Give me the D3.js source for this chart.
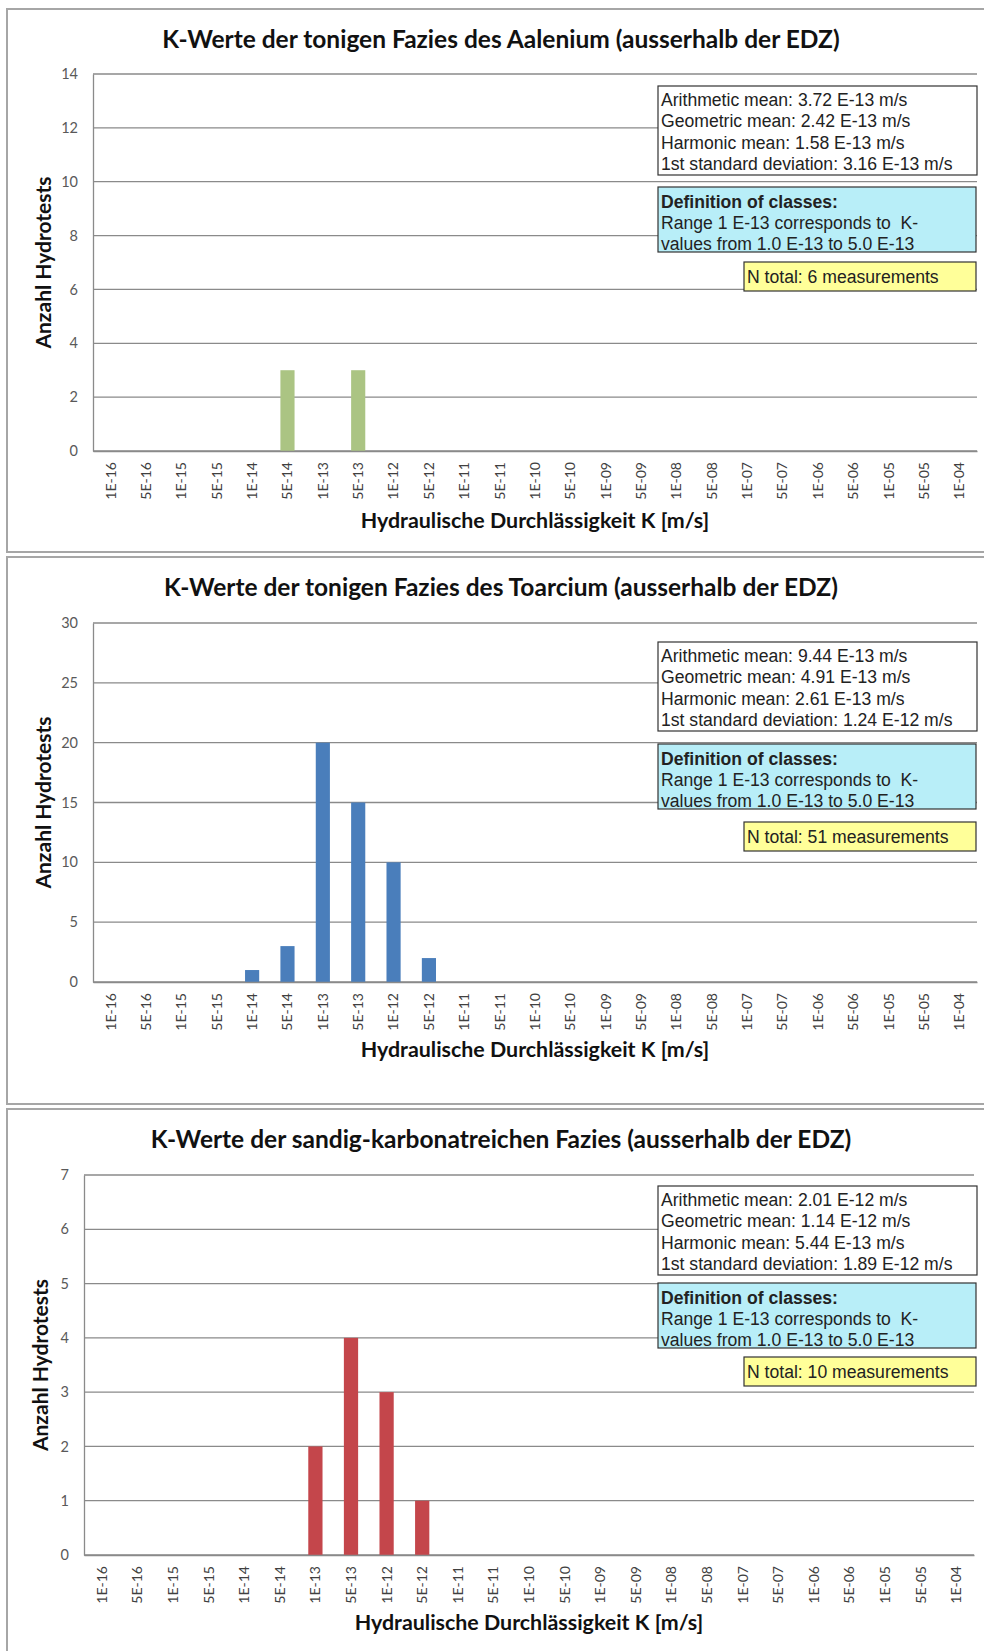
<!DOCTYPE html>
<html>
<head>
<meta charset="utf-8">
<script src="https://cdn.jsdelivr.net/npm/d3@7"></script>
<style>
  body { margin: 0; background: #fff; }
  svg { display: block; }
  .box-text { white-space: pre; }
</style>
</head>
<body>
<div id="chart"></div>
<script>
// permeability classes (x axis)
const classLabels = [
    "1E-16", "5E-16", "1E-15", "5E-15", "1E-14", "5E-14", "1E-13", "5E-13",
    "1E-12", "5E-12", "1E-11", "5E-11", "1E-10", "5E-10", "1E-09", "5E-09",
    "1E-08", "5E-08", "1E-07", "5E-07", "1E-06", "5E-06", "1E-05", "5E-05", "1E-04"
];

// number of hydrotests per class
const aaleniumCounts = [0, 0, 0, 0, 0, 3, 0, 3, 0, 0, 0, 0, 0, 0, 0, 0, 0, 0, 0, 0, 0, 0, 0, 0, 0];
const toarciumCounts = [0, 0, 0, 0, 1, 3, 20, 15, 10, 2, 0, 0, 0, 0, 0, 0, 0, 0, 0, 0, 0, 0, 0, 0, 0];
const sandigCounts   = [0, 0, 0, 0, 0, 0, 2, 4, 3, 1, 0, 0, 0, 0, 0, 0, 0, 0, 0, 0, 0, 0, 0, 0, 0];

const chartTitles = [
    "K-Werte der tonigen Fazies des Aalenium (ausserhalb der EDZ)",
    "K-Werte der tonigen Fazies des Toarcium (ausserhalb der EDZ)",
    "K-Werte der sandig-karbonatreichen Fazies (ausserhalb der EDZ)"
];

const yMaxValues = [14, 30, 7];
const yTickSteps = [2, 5, 1];

const statsAalenium = [
    "Arithmetic mean: 3.72 E-13 m/s",
    "Geometric mean: 2.42 E-13 m/s",
    "Harmonic mean: 1.58 E-13 m/s",
    "1st standard deviation: 3.16 E-13 m/s"
];
const statsToarcium = [
    "Arithmetic mean: 9.44 E-13 m/s",
    "Geometric mean: 4.91 E-13 m/s",
    "Harmonic mean: 2.61 E-13 m/s",
    "1st standard deviation: 1.24 E-12 m/s"
];
const statsSandig = [
    "Arithmetic mean: 2.01 E-12 m/s",
    "Geometric mean: 1.14 E-12 m/s",
    "Harmonic mean: 5.44 E-13 m/s",
    "1st standard deviation: 1.89 E-12 m/s"
];

const classDefinition = [
    "Definition of classes:",
    "Range 1 E-13 corresponds to  K-",
    "values from 1.0 E-13 to 5.0 E-13"
];
const nTotals = [
    "N total: 6 measurements",
    "N total: 51 measurements",
    "N total: 10 measurements"
];

const width = 984, height = 1651;

// layout of each chart panel (pixel positions)
const panels = [
    { counts: aaleniumCounts, stats: statsAalenium, color: "#abc483",
      frameTop: 9, frameBottom: 552, titleY: 39,
      plotLeft: 93, plotRight: 977, plotTop: 74, plotBottom: 451,
      xTitleY: 521, yTitleX: 44,
      statsTop: 86, classTop: 187, nTop: 262 },
    { counts: toarciumCounts, stats: statsToarcium, color: "#4a7ebb",
      frameTop: 557, frameBottom: 1104, titleY: 587,
      plotLeft: 93, plotRight: 977, plotTop: 623, plotBottom: 982,
      xTitleY: 1050, yTitleX: 44,
      statsTop: 642, classTop: 744, nTop: 822 },
    { counts: sandigCounts, stats: statsSandig, color: "#c4464b",
      frameTop: 1109, frameBottom: 1670, titleY: 1139,
      plotLeft: 84, plotRight: 974, plotTop: 1175, plotBottom: 1555,
      xTitleY: 1623, yTitleX: 41,
      statsTop: 1186, classTop: 1283, nTop: 1357 }
];

const svg = d3.select("#chart")
    .append("svg")
    .attr("width", width)
    .attr("height", height)
    .attr("viewBox", [0, 0, width, height]);

panels.forEach((p, i) => {
    const g = svg.append("g");

    // panel frame
    g.append("rect")
        .attr("x", 7)
        .attr("y", p.frameTop)
        .attr("width", 1000)
        .attr("height", p.frameBottom - p.frameTop)
        .attr("fill", "none")
        .attr("stroke", "#a6a6a6")
        .attr("stroke-width", 2);

    const x = d3.scaleBand()
        .domain(classLabels)
        .range([p.plotLeft, p.plotRight])
        .paddingInner(0.6)
        .paddingOuter(0.3);

    const y = d3.scaleLinear()
        .domain([0, yMaxValues[i]])
        .range([p.plotBottom, p.plotTop]);

    const yTicks = d3.range(0, yMaxValues[i] + 1e-9, yTickSteps[i]);

    // gridlines
    g.append("g")
        .selectAll("line")
        .data(yTicks)
        .join("line")
        .attr("x1", p.plotLeft)
        .attr("x2", p.plotRight)
        .attr("y1", d => y(d))
        .attr("y2", d => y(d))
        .attr("stroke", "#8a8a8a")
        .attr("stroke-width", 1.3);

    // y axis
    const yAxis = g.append("g")
        .attr("transform", `translate(${p.plotLeft},0)`)
        .call(d3.axisLeft(y).tickValues(yTicks).tickFormat(d3.format("d")).tickSize(0).tickPadding(15));
    yAxis.select(".domain").attr("stroke", "#8a8a8a").attr("stroke-width", 1.3);
    yAxis.selectAll("text")
        .attr("font-family", "Lato, 'Open Sans', sans-serif")
        .attr("font-size", 14.5)
        .attr("fill", "#595959");

    // bars
    g.append("g")
        .selectAll("rect")
        .data(p.counts.map((v, k) => ({ label: classLabels[k], value: v })).filter(d => d.value > 0))
        .join("rect")
        .attr("x", d => x(d.label))
        .attr("width", x.bandwidth())
        .attr("y", d => y(d.value))
        .attr("height", d => y(0) - y(d.value))
        .attr("fill", p.color);

    // x axis
    const xAxis = g.append("g")
        .attr("transform", `translate(0,${p.plotBottom})`)
        .call(d3.axisBottom(x).tickSize(0));
    xAxis.select(".domain").attr("stroke", "#8a8a8a").attr("stroke-width", 1.3);
    xAxis.selectAll("text")
        .attr("transform", "rotate(-90)")
        .attr("x", -11)
        .attr("y", 0)
        .attr("dy", "0.35em")
        .attr("text-anchor", "end")
        .attr("font-family", "Lato, 'Open Sans', sans-serif")
        .attr("font-size", 14)
        .attr("fill", "#404040");

    // titles
    g.append("text")
        .attr("x", 501)
        .attr("y", p.titleY)
        .attr("dy", "0.35em")
        .attr("text-anchor", "middle")
        .attr("font-family", "Lato, sans-serif")
        .attr("font-weight", "bold")
        .attr("font-size", 24.5)
        .attr("fill", "#111")
        .text(chartTitles[i]);

    g.append("text")
        .attr("x", (p.plotLeft + p.plotRight) / 2)
        .attr("y", p.xTitleY)
        .attr("dy", "0.35em")
        .attr("text-anchor", "middle")
        .attr("font-family", "Lato, sans-serif")
        .attr("font-weight", "bold")
        .attr("font-size", 21.4)
        .attr("fill", "#111")
        .text("Hydraulische Durchlässigkeit K [m/s]");

    g.append("text")
        .attr("transform", `translate(${p.yTitleX},${(p.plotTop + p.plotBottom) / 2}) rotate(-90)`)
        .attr("dy", "0.35em")
        .attr("text-anchor", "middle")
        .attr("font-family", "Lato, sans-serif")
        .attr("font-weight", "bold")
        .attr("font-size", 21)
        .attr("fill", "#111")
        .text("Anzahl Hydrotests");

    // info boxes
    const boxFont = "'Liberation Sans', Arial, sans-serif";
    const boxSize = 17.6;

    g.append("rect")
        .attr("x", 658).attr("y", p.statsTop)
        .attr("width", 319).attr("height", 89)
        .attr("fill", "#fff").attr("stroke", "#333").attr("stroke-width", 1.2);
    g.append("g")
        .selectAll("text")
        .data(p.stats)
        .join("text")
        .attr("x", 661)
        .attr("y", (d, k) => p.statsTop + 14 + k * 21.3)
        .attr("dy", "0.35em")
        .attr("font-family", boxFont)
        .attr("font-size", boxSize)
        .attr("fill", "#222")
        .text(d => d);

    g.append("rect")
        .attr("x", 658).attr("y", p.classTop)
        .attr("width", 318).attr("height", 65)
        .attr("fill", "#b8eef8").attr("stroke", "#333").attr("stroke-width", 1.2);
    g.append("g")
        .selectAll("text")
        .data(classDefinition)
        .join("text")
        .attr("class", "box-text")
        .attr("x", 661)
        .attr("y", (d, k) => p.classTop + 15 + k * 21)
        .attr("dy", "0.35em")
        .attr("font-family", boxFont)
        .attr("font-size", boxSize)
        .attr("font-weight", (d, k) => k === 0 ? "bold" : "normal")
        .attr("fill", "#222")
        .text(d => d);

    g.append("rect")
        .attr("x", 744).attr("y", p.nTop)
        .attr("width", 232).attr("height", 29)
        .attr("fill", "#ffff99").attr("stroke", "#333").attr("stroke-width", 1.2);
    g.append("text")
        .attr("x", 747)
        .attr("y", p.nTop + 14.5)
        .attr("dy", "0.35em")
        .attr("font-family", boxFont)
        .attr("font-size", boxSize)
        .attr("fill", "#222")
        .text(nTotals[i]);
});
</script>
</body>
</html>
